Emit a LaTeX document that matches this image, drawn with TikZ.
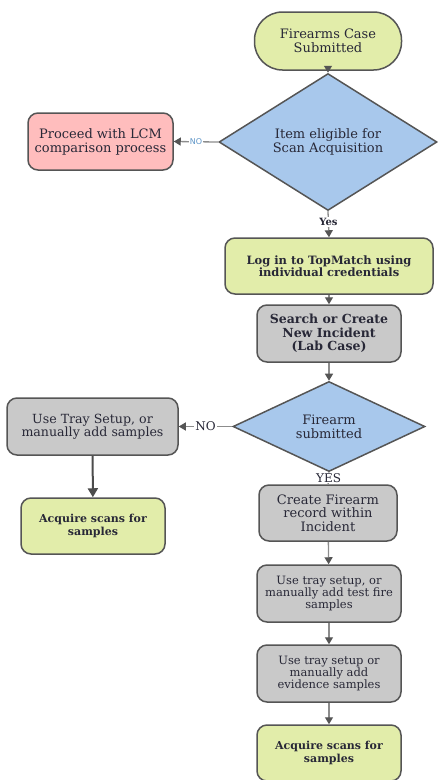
\documentclass[tikz,border=0pt]{standalone}
\usepackage{fontspec}
\setmainfont{DejaVu Serif}
\newfontfamily\nofont{DejaVu Sans}
\usetikzlibrary{shapes.geometric, arrows.meta}

\definecolor{boxgreen}{RGB}{226,237,170}
\definecolor{boxpink}{RGB}{255,189,189}
\definecolor{boxblue}{RGB}{168,200,236}
\definecolor{boxgray}{RGB}{201,201,201}
\definecolor{edgegray}{RGB}{85,85,85}
\definecolor{linegray}{RGB}{140,140,140}
\definecolor{txtdark}{RGB}{40,40,55}
\definecolor{nolabel}{RGB}{95,150,200}

\begin{document}
\begin{tikzpicture}[x=1pt, y=-1pt,
    box/.style={rectangle, rounded corners=10pt, draw=edgegray, line width=1.5pt,
        text=txtdark, align=center, inner sep=0pt, font=\fontsize{13}{14}\selectfont},
    smalltxt/.style={font=\fontsize{11.5}{12.3}\selectfont},
    boldtxt/.style={font=\fontsize{11.5}{12.5}\selectfont\bfseries},
    terminal/.style={box, rounded corners=28pt, fill=boxgreen},
    decision/.style={diamond, draw=edgegray, line width=1.5pt, fill=boxblue, text=txtdark,
        align=center, inner sep=0pt, font=\fontsize{13}{14}\selectfont},
    flow/.style={draw=linegray, line width=1.3pt,
        -{Triangle[width=8pt,length=7pt,color=edgegray]}},
    flowdark/.style={draw=edgegray!90!black, line width=2pt,
        -{Triangle[width=10pt,length=9pt]}}]
    \useasboundingbox (0,0) rectangle (437,780);

    % main column
    \node[terminal, minimum width=147pt, minimum height=58pt] (start) at (328,41) {Firearms Case\\Submitted};
    \node[decision, minimum width=218pt, minimum height=100pt] (eligible) at (328,142) {Item eligible for\\Scan Acquisition};
    \node[box, fill=boxpink, minimum width=145pt, minimum height=57pt] (lcm) at (100.5,141.5) {Proceed with LCM\\comparison process};
    \node[box, boldtxt, fill=boxgreen, minimum width=208pt, minimum height=56pt] (login) at (329,266) {Log in to TopMatch using\\individual credentials};
    \node[box, fill=boxgray, font=\fontsize{12.5}{13.3}\selectfont\bfseries, minimum width=144pt, minimum height=57pt] (incident) at (329,333.5) {Search or Create\\New Incident\\(Lab Case)};
    \node[decision, minimum width=192pt, minimum height=73pt] (firearm) at (329,426.5) {Firearm\\submitted};

    % no firearm
    \node[box, fill=boxgray, font=\fontsize{12.6}{13.5}\selectfont, minimum width=171pt, minimum height=57pt] (traysetup) at (92.5,426.5) {Use Tray Setup, or\\manually add samples};
    \node[box, fill=boxgreen, font=\fontsize{11}{12.5}\selectfont\bfseries, minimum width=144pt, minimum height=56pt] (acquireleft) at (93,526) {Acquire scans for\\samples};

    % firearm submitted
    \node[box, fill=boxgray, font=\fontsize{13}{13.3}\selectfont, minimum width=138pt, minimum height=56pt] (record) at (328,513) {Create Firearm\\record within\\Incident};
    \node[box, smalltxt, fill=boxgray, minimum width=144pt, minimum height=57pt] (testfire) at (329,593.5) {Use tray setup, or\\manually add test fire\\samples};
    \node[box, smalltxt, fill=boxgray, minimum width=144pt, minimum height=57pt] (evidence) at (329,673.5) {Use tray setup or\\manually add\\evidence samples};
    \node[box, fill=boxgreen, font=\fontsize{11}{12.5}\selectfont\bfseries, minimum width=144pt, minimum height=56pt] (acquire) at (329,753) {Acquire scans for\\samples};

    \draw[flow] (start) -- (eligible);
    \draw[flow] (eligible.west) -- (lcm.east)
        node[midway, fill=white, inner sep=1pt, text=nolabel, font=\nofont\fontsize{8}{8}\selectfont] {NO};
    \draw[flow] (eligible.south) -- (login.north)
        node[pos=0.41, fill=white, inner sep=1pt, text=txtdark, font=\fontsize{10}{10}\selectfont\bfseries] {Yes};
    \draw[flow] (login) -- (incident);
    \draw[flow] (incident) -- (firearm);
    \draw[flow] (firearm.west) -- (traysetup.east)
        node[midway, fill=white, inner sep=1pt, text=txtdark, font=\fontsize{12}{12}\selectfont] {NO};
    \draw[flowdark] (traysetup) -- (acquireleft);
    \draw[flow] (firearm.south) -- (record.north)
        node[pos=0.45, fill=white, inner sep=0.5pt, text=txtdark, font=\fontsize{12}{12}\selectfont] {YES};
    \draw[flow] (record) -- (testfire);
    \draw[flow] (testfire) -- (evidence);
    \draw[flow] (evidence) -- (acquire);
\end{tikzpicture}
\end{document}
